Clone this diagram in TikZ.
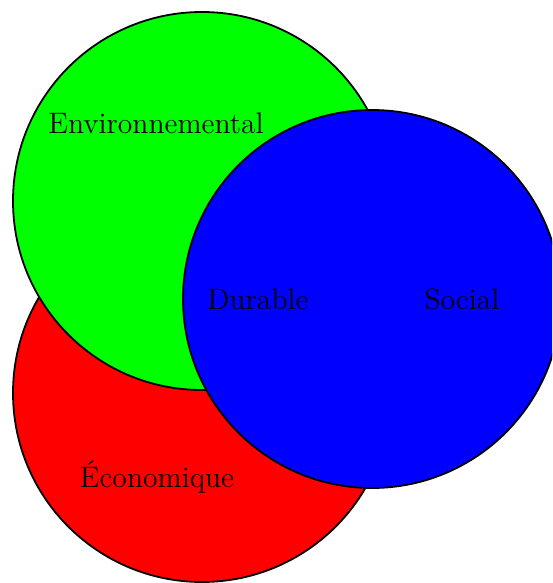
\documentclass[tikz,border=0pt]{standalone}
\begin{document}
\begin{tikzpicture}[x=0.5pt,y=-0.5pt,
  circ/.style={draw=black,line width=0.9pt},
  lbl/.style={font=\fontsize{14.8}{18}\selectfont,inner sep=0pt}]
\useasboundingbox (0,0) rectangle (552,583);
\begin{scope}
\clip (0,0) rectangle (552,583);
\filldraw[circ,fill=red] (202,393) circle[radius=189];
\filldraw[circ,fill=green] (202,201) circle[radius=189];
\filldraw[circ,fill=blue] (372,299) circle[radius=189];
\end{scope}
\node[lbl] (env) at (156,123) {Environnemental};
\node[lbl] (dur) at (258,299) {Durable};
\node[lbl] (soc) at (462,299) {Social};
\node[lbl] (eco) at (157,477) {Économique};
\end{tikzpicture}
\end{document}
